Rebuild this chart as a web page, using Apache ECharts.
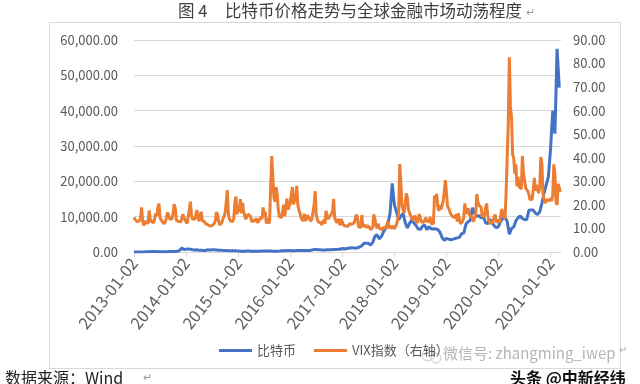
<!DOCTYPE html>
<html>
<head>
<meta charset="utf-8">
<script src="https://cdn.jsdelivr.net/npm/echarts@6/dist/echarts.min.js"></script>
<style>
html,body{margin:0;padding:0;background:#fff;}
#chart{width:640px;height:384px;}
</style>
</head>
<body>
<div id="chart"></div>
<script>
const years = [2013, 2014, 2015, 2016, 2017, 2018, 2019, 2020, 2021];
const xTickLabels = ['2013-01-02','2014-01-02','2015-01-02','2016-01-02','2017-01-02','2018-01-02','2019-01-02','2020-01-02','2021-01-02'];

// Bitcoin price (USD), two samples per month (1st, 16th)
const btc2013 = [13.5,14.2,20.4,27,34.5,47,104,83,117,115,129,100,88,97,105,100,138,127,125,144,204,440,1100,690];
const btc2014 = [770,830,830,620,560,630,470,520,450,450,630,590,640,620,590,500,480,460,390,390,330,390,380,330];
const btc2015 = [315,210,225,235,260,285,245,225,235,237,225,250,258,280,280,255,228,230,237,265,325,330,375,455];
const btc2016 = [430,385,375,405,435,415,416,430,450,455,535,760,675,665,610,580,575,610,615,640,730,740,750,780];
const btc2017 = [1000,830,990,1040,1220,1170,1090,1180,1420,1780,2450,2500,2450,1930,2720,4380,4890,3700,4390,5700,6740,7870,10900,19400];
const btc2018 = [13400,11300,9100,10200,10900,8300,6800,8100,9100,8200,7500,6500,6400,7300,7600,6300,7200,6500,6600,6500,6350,5600,4100,3300];
const btc2019 = [3850,3650,3480,3630,3820,4000,4150,5200,5350,7900,8550,9000,12500,10900,10100,10300,9600,10200,8300,8000,9200,8500,7400,6900];
const btc2020 = [7200,8800,9400,9900,8600,5000,6640,7100,8800,9700,10200,9450,9220,9130,11800,11900,11900,10950,10600,11350,13800,16700,19000,21300];
const btc2021 = [29400,40000,33500,57500,46500];

// VIX index, four samples per month
const vix2013 = [14.7,13.8,13.6,12.9, 12.9,13.2,14.2,18.9, 13.0,11.3,12.0,13.2, 13.9,12.0,17.6,14.0, 13.0,12.6,12.4,14.0, 16.3,15.4,18.9,20.5, 14.5,14.2,13.0,12.7, 12.0,12.9,14.7,16.8, 16.6,14.0,14.2,14.0, 16.6,20.3,18.7,13.5, 13.2,12.9,12.2,12.8, 14.0,16.0,15.6,13.7];
const vix2014 = [13.8,12.1,12.4,18.1, 21.4,15.5,13.9,14.0, 14.0,14.2,17.8,14.4, 13.1,15.9,17.0,13.3, 13.3,12.9,12.0,11.4, 11.6,11.1,11.0,11.6, 11.2,11.8,12.1,13.3, 17.0,15.8,13.2,11.5, 12.1,12.5,14.1,15.0, 16.7,21.2,26.3,16.1, 14.0,13.1,13.3,12.9, 14.3,21.1,23.6,16.0];
const vix2015 = [19.2,17.0,22.4,16.4, 20.9,17.2,15.5,14.0, 13.3,16.0,15.4,15.4, 15.1,12.6,13.9,13.0, 12.7,14.3,12.4,13.0, 13.8,15.0,14.0,18.9, 16.1,17.0,12.1,14.4, 12.1,13.0,28.0,40.7, 31.4,23.0,21.4,27.6, 24.5,17.9,15.0,14.6, 14.6,17.2,20.1,15.1, 15.0,22.7,18.0,18.2];
const vix2016 = [20.7,24.3,27.6,20.2, 19.9,23.4,28.1,20.0, 17.7,16.5,14.5,13.8, 13.1,16.3,13.2,13.8, 15.7,14.6,15.2,13.1, 14.2,17.0,20.1,25.8, 15.6,14.0,12.7,12.9, 12.4,11.5,12.2,13.7, 12.0,17.5,15.4,14.0, 13.3,15.4,16.0,17.1, 22.5,14.4,13.4,12.3, 14.1,12.5,11.4,14.0];
const vix2017 = [14.0,11.5,11.8,11.0, 11.8,10.9,11.5,12.0, 12.5,11.7,11.3,12.5, 12.4,15.9,14.6,10.8, 10.5,10.4,15.6,10.8, 10.4,11.5,10.4,11.2, 11.2,11.2,9.5,9.4, 10.3,16.0,14.3,11.3, 10.1,12.1,10.2,9.6, 9.5,9.6,10.3,9.8, 10.2,11.5,13.1,10.0, 11.3,10.0,10.0,11.0];
const vix2018 = [9.8,10.2,11.7,13.5, 17.3,37.3,29.1,19.5, 19.8,16.5,16.0,24.9, 22.9,18.0,16.6,15.4, 15.9,13.4,13.0,15.4, 13.5,12.2,12.0,16.1, 16.1,12.7,12.8,12.6, 13.2,14.6,13.0,12.2, 12.9,14.9,12.1,12.1, 12.0,24.0,21.3,24.7, 19.3,17.4,19.9,18.1, 18.1,21.6,25.6,30.5];
const vix2019 = [25.4,19.5,18.6,17.4, 16.1,15.7,14.9,14.6, 14.6,16.0,12.9,16.5, 13.7,12.0,12.3,13.1, 14.8,20.6,16.3,17.5, 18.7,15.9,15.3,15.1, 14.8,12.9,12.4,16.1, 24.6,21.1,19.9,19.3, 18.9,15.0,14.7,15.3, 18.6,20.6,15.6,13.5, 12.3,12.7,12.1,12.6, 14.9,15.8,12.5,12.7];
const vix2020 = [13.8,12.5,12.3,18.2, 18.8,15.0,14.0,25.0, 40.1,54.5,82.7,61.6, 57.1,41.2,40.1,33.3, 37.2,27.9,31.9,27.6, 28.2,26.8,40.8,33.5, 30.4,27.3,28.0,25.8, 24.5,22.2,21.7,22.5, 26.1,31.5,26.0,28.5, 26.7,25.0,27.4,40.3, 37.6,24.9,22.4,20.8, 20.8,22.3,22.5,21.7];
const vix2021 = [22.8,21.6,24.3,37.2, 33.1,21.2,20.0,28.9, 28.6,25.5];

const btcByYear = [btc2013,btc2014,btc2015,btc2016,btc2017,btc2018,btc2019,btc2020,btc2021];
const vixByYear = [vix2013,vix2014,vix2015,vix2016,vix2017,vix2018,vix2019,vix2020,vix2021];

function toPairs(byYear, perYear){
  const out = [];
  byYear.forEach((arr, i) => arr.forEach((v, k) => out.push([years[i] + k / perYear, v])));
  return out;
}

const FONT = 'Noto Sans CJK SC';
const chart = echarts.init(document.getElementById('chart'), null, {renderer:'canvas'});
chart.setOption({
  animation: false,
  textStyle: {fontFamily: FONT},
  grid: {left: 134, right: 79, top: 40, bottom: 132},
  legend: {
    left: 214, top: 339,
    itemWidth: 33, itemHeight: 3, itemGap: 18,
    icon: 'rect',
    textStyle: {fontSize: 13, color: '#595959', fontFamily: FONT},
    data: ['比特币', 'VIX指数（右轴）']
  },
  xAxis: {
    type: 'value', min: 2013, max: 2021.2, interval: 1,
    axisLine: {lineStyle: {color: '#d9d9d9'}},
    axisTick: {show: true, length: 5, lineStyle: {color: '#d9d9d9'}},
    splitLine: {show: false},
    axisLabel: {
      rotate: 52, fontSize: 16.5, color: '#606060', margin: 8,
      showMaxLabel: false,
      formatter: v => { const i = Math.round(v - 2013); return Math.abs(v - 2013 - i) < 1e-6 ? (xTickLabels[i] || '') : ''; }
    }
  },
  yAxis: [{
    type: 'value', min: 0, max: 60000, interval: 10000,
    axisLine: {show: false}, axisTick: {show: false},
    splitLine: {lineStyle: {color: '#d9d9d9'}},
    axisLabel: {fontSize: 13, color: '#595959', margin: 16,
      formatter: v => v.toLocaleString('en-US', {minimumFractionDigits: 2, maximumFractionDigits: 2})}
  }, {
    type: 'value', min: 0, max: 90, interval: 10,
    axisLine: {show: false}, axisTick: {show: false},
    splitLine: {show: false},
    axisLabel: {fontSize: 13, color: '#595959', margin: 12, formatter: v => v.toFixed(2)}
  }],
  series: [{
    name: '比特币', type: 'line', yAxisIndex: 0, showSymbol: false,
    lineStyle: {width: 3, color: '#4472C4'}, itemStyle: {color: '#4472C4'},
    data: toPairs(btcByYear, 24)
  }, {
    name: 'VIX指数（右轴）', type: 'line', yAxisIndex: 1, showSymbol: false,
    lineStyle: {width: 3, color: '#ED7D31'}, itemStyle: {color: '#ED7D31'},
    data: toPairs(vixByYear, 48)
  }],
  graphic: [
    {type: 'rect', shape: {x: 49.5, y: 22.5, width: 571, height: 346}, style: {fill: 'none', stroke: '#d9d9d9', lineWidth: 1}, silent: true},
    {type: 'text', left: 178, top: 2, style: {text: '图 4', fontSize: 16.5, fill: '#404040', fontFamily: FONT}},
    {type: 'text', left: 225, top: 2, style: {text: '比特币价格走势与全球金融市场动荡程度', fontSize: 16.5, fill: '#404040', fontFamily: FONT}},
    {type: 'text', left: 526, top: 6, style: {text: '↵', fontSize: 11, fill: '#999', fontFamily: FONT}},
    {type: 'text', left: 5, top: 370, style: {text: '数据来源：Wind', fontSize: 16, fill: '#222', fontFamily: FONT}},
    {type: 'text', left: 143, top: 371, style: {text: '↵', fontSize: 11, fill: '#999', fontFamily: FONT}},
    {type: 'circle', shape: {cx: 428, cy: 355, r: 6}, style: {fill: 'none', stroke: '#c8c8c8', lineWidth: 1}},
    {type: 'circle', shape: {cx: 436, cy: 358, r: 5}, style: {fill: 'none', stroke: '#c8c8c8', lineWidth: 1}},
    {type: 'text', left: 443, top: 346, style: {text: '微信号: zhangming_iwep', fontSize: 15, fill: '#b5b5b5', fontFamily: FONT}},
    {type: 'text', left: 619, top: 344, style: {text: '↵', fontSize: 10, fill: '#aaa', fontFamily: FONT}},
    {type: 'text', left: 510, top: 370, style: {text: '头条 @中新经纬', fontSize: 16, fontWeight: 'bold', fill: '#111', fontFamily: FONT}}
  ]
});
</script>
</body>
</html>
